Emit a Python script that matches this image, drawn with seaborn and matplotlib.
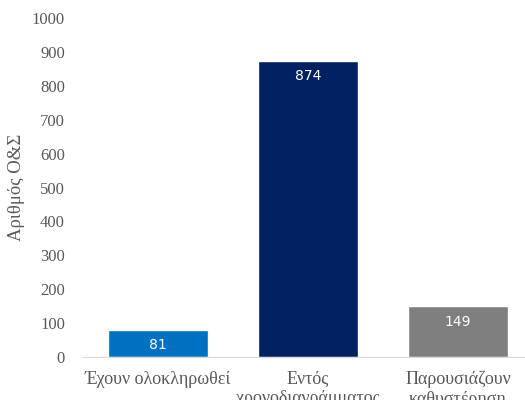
import pandas as pd
import seaborn as sns
import matplotlib.pyplot as plt

categories = ['Έχουν ολοκληρωθεί', 'Εντός\nχρονοδιαγράμματος', 'Παρουσιάζουν\nκαθυστέρηση']
values = [81, 874, 149]
colors = ['#0070C0', '#002060', '#7F7F7F']
y_ticks = [0, 100, 200, 300, 400, 500, 600, 700, 800, 900, 1000]

sns.set_style('white')
plt.rcParams['font.family'] = ['Liberation Serif', 'DejaVu Serif']

df = pd.DataFrame({'cat': categories, 'val': values})

fig = plt.figure(figsize=(5.25, 4), dpi=100)
ax = fig.add_axes([83 / 525, 43 / 400, 450 / 525, 339 / 400])
sns.barplot(data=df, x='cat', y='val', hue='cat', palette=colors, width=0.667,
            legend=False, ax=ax, saturation=1)

ax.set_ylim(0, 1000)
ax.set_xlim(-0.5, 2.5)
ax.set_yticks(y_ticks)
ax.tick_params(axis='y', labelsize=12, labelcolor='#595959', length=0, pad=13)
ax.tick_params(axis='x', labelsize=13, labelcolor='#595959', length=0, pad=10)
ax.set_xlabel('')
ax.set_ylabel('Αριθμός Ο&Σ', fontsize=13.5, color='#595959', labelpad=5)

for s in ['top', 'right', 'left']:
    ax.spines[s].set_visible(False)
ax.spines['bottom'].set_color('#D9D9D9')

for c in ax.containers:
    ax.bar_label(c, label_type='edge', padding=-16, color='white', fontsize=10,
                 family='DejaVu Sans')

fig.savefig('out.png', dpi=100)
